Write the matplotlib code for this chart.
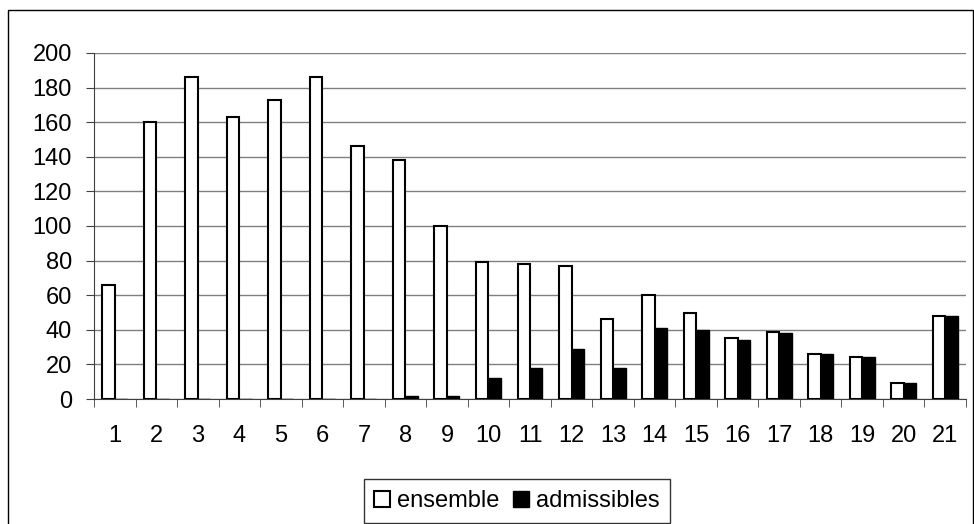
import matplotlib.pyplot as plt
import numpy as np
from matplotlib.patches import Rectangle

categories = [str(i) for i in range(1, 22)]
ensemble = [66, 160, 186, 163, 173, 186, 146, 138, 100, 79, 78, 77, 46, 60, 50, 35, 39, 26, 24, 9, 48]
admissibles = [0, 0, 0, 0, 0, 0, 0, 2, 2, 12, 18, 29, 18, 41, 40, 34, 38, 26, 24, 9, 48]

plt.rcParams['font.family'] = ['Liberation Sans', 'DejaVu Sans']

fig = plt.figure(figsize=(9.74, 5.24), dpi=100)
ax = fig.add_axes([94/974, 1 - 399/524, (966 - 94)/974, (399 - 53)/524])

x = np.arange(len(categories))
w = 0.3
ax.bar(x - w/2, ensemble, w, color='white', edgecolor='black', linewidth=1.5, label='ensemble', zorder=3)
ax.bar(x + w/2, admissibles, w, color='black', edgecolor='black', linewidth=1.0, label='admissibles', zorder=3)

ax.set_xlim(-0.5, len(categories) - 0.5)
ax.set_ylim(0, 200)
ax.set_yticks(range(0, 201, 20))
ax.yaxis.grid(True, color='#808080', linewidth=1.0, zorder=0)
ax.set_xticks(x)
ax.set_xticklabels(categories)
ax.set_xticks(np.arange(-0.5, len(categories), 1), minor=True)
ax.tick_params(axis='x', which='major', length=0, pad=19, labelsize=17)
ax.tick_params(axis='x', which='minor', length=6, color='#404040')
ax.tick_params(axis='y', length=6, color='#404040', labelsize=17, pad=10)
for s in ['top', 'right']:
    ax.spines[s].set_visible(False)
ax.spines['left'].set_color('#404040')
ax.spines['bottom'].set_color('#404040')

leg = fig.legend(loc='center', bbox_to_anchor=(517/974, 1 - 501/524), ncol=2, frameon=True,
                 fancybox=False, edgecolor='black', fontsize=17, handlelength=0.65, handleheight=0.65,
                 handletextpad=0.3, columnspacing=0.6, borderpad=0.45, borderaxespad=0)
leg.get_frame().set_linewidth(1.0)

fig.patches.append(Rectangle((8/974, -0.01), 965/974, 1.01 - 10/524, transform=fig.transFigure,
                             fill=False, edgecolor='black', linewidth=1.0))

fig.savefig('out.png', dpi=100)
